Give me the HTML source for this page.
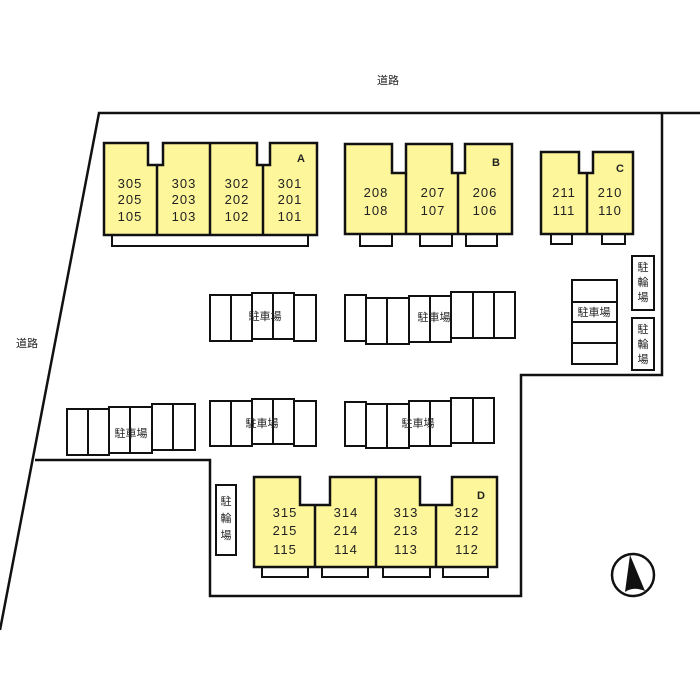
<!DOCTYPE html>
<html><head><meta charset="utf-8"><style>
html,body{margin:0;padding:0;background:#fff;}
svg{display:block}
text{font-family:"Liberation Sans","Noto Sans CJK JP",sans-serif;fill:#222;}
.n{font-size:13px;text-anchor:middle;letter-spacing:1px}
.j{font-size:11px;text-anchor:middle}
.b{fill:#fdf69b;stroke:#111;stroke-width:2.5}
.p{fill:#fff;stroke:#111;stroke-width:2}
.l{fill:none;stroke:#111;stroke-width:2.5}
</style></head><body>
<svg width="700" height="700" viewBox="0 0 700 700" xmlns="http://www.w3.org/2000/svg">
<!-- boundary -->
<path class="l" d="M700,113 H99 L0,630"/>
<path class="l" d="M662,113 V375 H521 V596 H210 V460 H35"/>
<text class="j" x="388" y="84">道路</text>
<text class="j" x="27" y="347">道路</text>

<!-- Building A -->
<rect class="p" x="112" y="235" width="196" height="11"/>
<path class="b" d="M104,143 H148 V165 H163 V143 H257 V165 H270 V143 H317 V235 H104 Z"/>
<path class="l" d="M157,165 V235 M210,143 V235 M263,165 V235"/>
<text class="n" x="130" y="188">305</text><text class="n" x="130" y="204">205</text><text class="n" x="130" y="221">105</text>
<text class="n" x="184" y="188">303</text><text class="n" x="184" y="204">203</text><text class="n" x="184" y="221">103</text>
<text class="n" x="237" y="188">302</text><text class="n" x="237" y="204">202</text><text class="n" x="237" y="221">102</text>
<text class="n" x="290" y="188">301</text><text class="n" x="290" y="204">201</text><text class="n" x="290" y="221">101</text>
<text class="j" x="301" y="162" style="font-weight:bold">A</text>

<!-- Building B -->
<rect class="p" x="360" y="234" width="32" height="12"/>
<rect class="p" x="420" y="234" width="32" height="12"/>
<rect class="p" x="466" y="234" width="31" height="12"/>
<path class="b" d="M345,144 H392 V173 H406 V144 H452 V173 H465 V144 H512 V234 H345 Z"/>
<path class="l" d="M406,173 V234 M458,173 V234"/>
<text class="n" x="376" y="197">208</text><text class="n" x="376" y="215">108</text>
<text class="n" x="433" y="197">207</text><text class="n" x="433" y="215">107</text>
<text class="n" x="485" y="197">206</text><text class="n" x="485" y="215">106</text>
<text class="j" x="496" y="166" style="font-weight:bold">B</text>

<!-- Building C -->
<rect class="p" x="551" y="234" width="21" height="10"/>
<rect class="p" x="602" y="234" width="23" height="10"/>
<path class="b" d="M541,152 H579 V173 H593 V152 H633 V234 H541 Z"/>
<path class="l" d="M587,173 V234"/>
<text class="n" x="564" y="197">211</text><text class="n" x="564" y="215">111</text>
<text class="n" x="610" y="197">210</text><text class="n" x="610" y="215">110</text>
<text class="j" x="620" y="172" style="font-weight:bold">C</text>

<!-- bike racks right -->
<rect class="p" x="632" y="256" width="22" height="54"/>
<text class="j" x="643" y="271">駐</text><text class="j" x="643" y="286">輪</text><text class="j" x="643" y="301">場</text>
<rect class="p" x="632" y="318" width="22" height="52"/>
<text class="j" x="643" y="333">駐</text><text class="j" x="643" y="348">輪</text><text class="j" x="643" y="363">場</text>

<!-- parking right -->
<rect class="p" x="572" y="280" width="45" height="84"/>
<path class="l" style="stroke-width:2" d="M572,302 H617 M572,322 H617 M572,343 H617"/>
<text class="j" x="594" y="316">駐車場</text>

<!-- parking left top -->
<g class="p">
<rect x="210" y="295" width="21" height="46"/><rect x="231" y="295" width="21" height="46"/>
<rect x="252" y="293" width="21" height="46"/><rect x="273" y="293" width="21" height="46"/>
<rect x="294" y="295" width="22" height="46"/>
</g>
<text class="j" x="265" y="320">駐車場</text>

<!-- parking middle top -->
<g class="p">
<rect x="345" y="295" width="21" height="46"/><rect x="366" y="298" width="21" height="46"/>
<rect x="387" y="298" width="22" height="46"/><rect x="409" y="296" width="21" height="46"/>
<rect x="430" y="296" width="21" height="46"/><rect x="451" y="292" width="22" height="46"/>
<rect x="473" y="292" width="21" height="46"/><rect x="494" y="292" width="21" height="46"/>
</g>
<text class="j" x="434" y="321">駐車場</text>

<!-- parking far left -->
<g class="p">
<rect x="67" y="409" width="21" height="46"/><rect x="88" y="409" width="21" height="46"/>
<rect x="109" y="407" width="21" height="46"/><rect x="130" y="407" width="22" height="46"/>
<rect x="152" y="404" width="21" height="46"/><rect x="173" y="404" width="22" height="46"/>
</g>
<text class="j" x="131" y="437">駐車場</text>

<!-- parking left mid -->
<g class="p">
<rect x="210" y="401" width="21" height="45"/><rect x="231" y="401" width="21" height="45"/>
<rect x="252" y="399" width="21" height="45"/><rect x="273" y="399" width="21" height="45"/>
<rect x="294" y="401" width="22" height="45"/>
</g>
<text class="j" x="262" y="427">駐車場</text>

<!-- parking middle mid -->
<g class="p">
<rect x="345" y="402" width="21" height="44"/><rect x="366" y="404" width="21" height="44"/>
<rect x="387" y="404" width="22" height="44"/><rect x="409" y="401" width="21" height="45"/>
<rect x="430" y="401" width="21" height="45"/><rect x="451" y="398" width="22" height="45"/>
<rect x="473" y="398" width="21" height="45"/>
</g>
<text class="j" x="418" y="427">駐車場</text>

<!-- bike rack D -->
<rect class="p" x="216" y="485" width="20" height="70"/>
<text class="j" x="226" y="505">駐</text><text class="j" x="226" y="522">輪</text><text class="j" x="226" y="539">場</text>

<!-- Building D -->
<rect class="p" x="262" y="567" width="46" height="10"/>
<rect class="p" x="322" y="567" width="46" height="10"/>
<rect class="p" x="383" y="567" width="47" height="10"/>
<rect class="p" x="443" y="567" width="45" height="10"/>
<path class="b" d="M254,477 H300 V505 H330 V477 H420 V505 H452 V477 H497 V567 H254 Z"/>
<path class="l" d="M315,505 V567 M376,477 V567 M436,505 V567"/>
<text class="n" x="285" y="517">315</text><text class="n" x="285" y="535">215</text><text class="n" x="285" y="554">115</text>
<text class="n" x="346" y="517">314</text><text class="n" x="346" y="535">214</text><text class="n" x="346" y="554">114</text>
<text class="n" x="406" y="517">313</text><text class="n" x="406" y="535">213</text><text class="n" x="406" y="554">113</text>
<text class="n" x="467" y="517">312</text><text class="n" x="467" y="535">212</text><text class="n" x="467" y="554">112</text>
<text class="j" x="481" y="499" style="font-weight:bold">D</text>

<!-- compass -->
<circle cx="633" cy="575" r="21" fill="#fff" stroke="#111" stroke-width="2.5"/>
<path d="M630,555 L625,592 Q633,586 645,591 Z" fill="#111"/>
</svg>
</body></html>
